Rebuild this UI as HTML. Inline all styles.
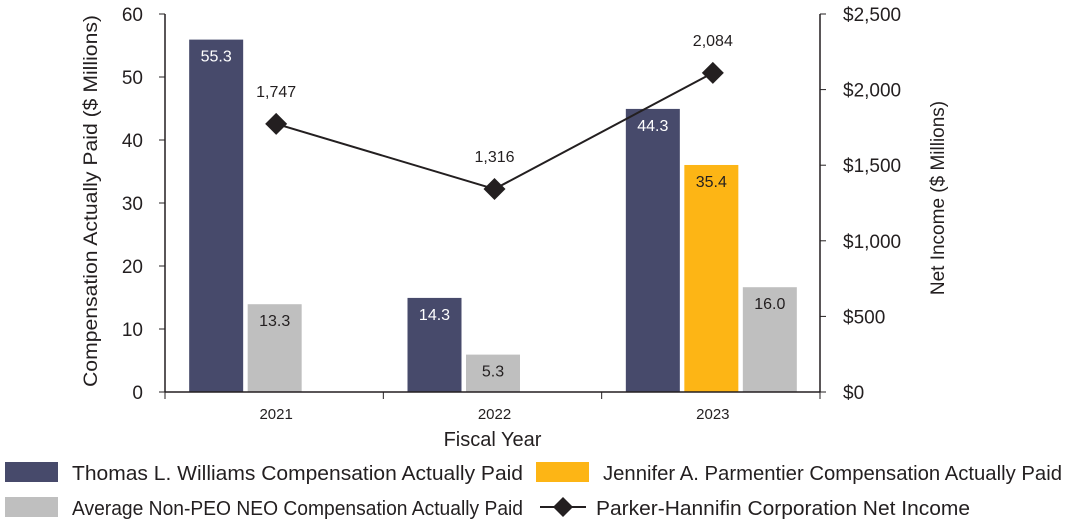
<!DOCTYPE html>
<html><head><meta charset="utf-8"><style>
body{margin:0;background:#fff;width:1070px;height:524px;overflow:hidden;font-family:"Liberation Sans",sans-serif;}
svg text{font-family:"Liberation Sans",sans-serif;fill:#231f20}
</style></head><body>
<svg width="1070" height="524" id="c"></svg>
<script>
const categories=["2021","2022","2023"];
const peoWilliams=[55.3,14.3,44.3];
const peoParmentier=[null,null,35.4];
const nonPeoAvg=[13.3,5.3,16.0];
const netIncome=[1747,1316,2084];
const leftTicks=[0,10,20,30,40,50,60];
const rightTicks=[0,500,1000,1500,2000,2500];
const NS="http://www.w3.org/2000/svg";
const svg=document.getElementById('c');
const x0=165,x1=820,yBase=392,yTop=14,off=4;
const yL=v=>yBase-(v/60)*(yBase-yTop);
const yR=v=>yBase-(v/2500)*(yBase-yTop);
const gw=(x1-x0)/categories.length;
const xC=i=>x0+gw*(i+0.5)+2;
function el(t,a,txt){const e=document.createElementNS(NS,t);for(const k in a)e.setAttribute(k,a[k]);if(txt!=null)e.textContent=txt;svg.appendChild(e);return e;}
let e=el('line',{x1:x0,y1:yTop,x2:x0,y2:yBase,stroke:'#231f20','stroke-width':1.5});

e=el('line',{x1:x1,y1:yTop,x2:x1,y2:yBase,stroke:'#231f20','stroke-width':1.5});

leftTicks.forEach(v=>{
  el('line',{x1:x0-6,y1:yL(v),x2:x0,y2:yL(v),stroke:'#231f20'});
  const t=el('text',{x:x0-22,y:yL(v)+7,'text-anchor':'end','font-size':19},v);
  
});
rightTicks.forEach(v=>{
  el('line',{x1:x1,y1:yR(v),x2:x1+6,y2:yR(v),stroke:'#231f20'});
  const t=el('text',{x:x1+23,y:yR(v)+7,'font-size':19},'$'+v.toLocaleString('en-US'));
  
});
for(let i=0;i<=categories.length;i++){const xx=x0+gw*i;el('line',{x1:xx,y1:yBase,x2:xx,y2:yBase+7,stroke:'#231f20'});}
categories.forEach((c,i)=>{const t=el('text',{x:xC(i),y:yBase+27,'text-anchor':'middle','font-size':15},c);
});
e=el('text',{x:(x0+x1)/2,y:446,'text-anchor':'middle','font-size':20},'Fiscal Year');

e=el('text',{x:0,y:0,'text-anchor':'middle','font-size':19,textLength:372,lengthAdjust:'spacingAndGlyphs',transform:'translate(97,201) rotate(-90)'},'Compensation Actually Paid ($ Millions)');

e=el('text',{x:0,y:0,'text-anchor':'middle','font-size':19,transform:'translate(944,198) rotate(-90)'},'Net Income ($ Millions)');

const series=[[peoWilliams,'#474a6b','#fff','williams'],[peoParmentier,'#fdb515','#231f20','parmentier'],[nonPeoAvg,'#bfbfbf','#231f20','non-peo']];
const bw=54,slot=58.5;
categories.forEach((c,i)=>{
  let k=0;const left=xC(i)-87;
  series.forEach(s=>{const v=s[0][i];if(v==null)return;
    const bx=left+k*slot;k++;const top=yL(v)-off;
    const r=el('rect',{x:bx,y:top,width:bw,height:yBase-top,fill:s[1]});
    
    const t=el('text',{x:bx+bw/2,y:top+22,'text-anchor':'middle','font-size':16,style:'fill:'+s[2]},v.toFixed(1));
    
  });
});
e=el('line',{x1:x0,y1:yBase,x2:x1,y2:yBase,stroke:'#231f20','stroke-width':1.5});

const pts=netIncome.map((v,i)=>xC(i)+','+(yR(v)-off)).join(' ');
e=el('polyline',{points:pts,fill:'none',stroke:'#231f20','stroke-width':2});

netIncome.forEach((v,i)=>{const x=xC(i),y=yR(v)-off;
  const d=el('polygon',{points:`${x},${y-11} ${x+11},${y} ${x},${y+11} ${x-11},${y}`,fill:'#231f20'});
  
  const t=el('text',{x:x,y:y-27,'text-anchor':'middle','font-size':16},v.toLocaleString('en-US'));
  
});
function leg(x,y,color,label,name,tx,tl){
  if(color){const r=el('rect',{x:x,y:y,width:53,height:20,fill:color});}
  else{el('line',{x1:x,y1:y+10,x2:x+46,y2:y+10,stroke:'#231f20','stroke-width':2});
    const d=el('polygon',{points:`${x+23},${y} ${x+33},${y+10} ${x+23},${y+20} ${x+13},${y+10}`,fill:'#231f20'});
    }
  const t=el('text',{x:tx,y:y+18,'font-size':20,textLength:tl,lengthAdjust:'spacingAndGlyphs'},label);
  
}
leg(5,462,'#474a6b','Thomas L. Williams Compensation Actually Paid','legend-williams',72,451);
leg(536,462,'#fdb515','Jennifer A. Parmentier Compensation Actually Paid','legend-parmentier',603,459);
leg(5,497,'#bfbfbf','Average Non-PEO NEO Compensation Actually Paid','legend-non-peo',72,451);
leg(540,497,null,'Parker-Hannifin Corporation Net Income','legend-net-income',596,374);
</script>
</body></html>
